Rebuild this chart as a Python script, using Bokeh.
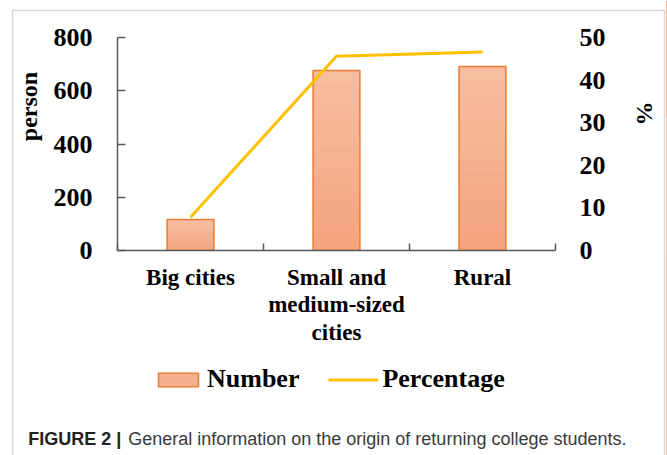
import math
from bokeh.plotting import figure
from bokeh.models import (Range1d, LinearAxis, FixedTicker, Label, Legend,
                          LegendItem, BoxAnnotation, GridBox)
from bokeh.embed import file_html
from bokeh.resources import INLINE

# ---- data ----
categories = ["Big cities", "Small and medium-sized cities", "Rural"]
tick_labels = ["Big cities", "Small and\nmedium-sized\ncities", "Rural"]
number = [116, 676, 691]
percentage = [7.8, 45.6, 46.6]
left_ticks = [0, 200, 400, 600, 800]
right_ticks = [0, 10, 20, 30, 40, 50]

# ---- layout (pixels) ----
W, H = 667, 455
FL, FR, FT, FB = 117, 555, 37, 250
NCAT = len(categories)
YMAX = left_ticks[-1]

xs = [i + 0.5 for i in range(NCAT)]
bounds = list(range(NCAT + 1))

AX = "#595959"
SERIF = "Liberation Serif"
SANS = "Liberation Sans"
BAR_FILL = "#F5B08F"
BAR_LINE = "#ED7D31"
LINE_COL = "#FFC000"
GRAD_BOTTOM = (244, 164, 126)
GRAD_TOP = (246, 190, 162)
NBANDS = 14
BAR_W = 0.32

# ---------- chart figure (transparent, on top) ----------
p = figure(width=W, height=H, output_backend="svg", toolbar_location=None,
           x_range=Range1d(0, NCAT), y_range=Range1d(0, YMAX),
           min_border_left=FL, min_border_right=W - FR,
           min_border_top=FT, min_border_bottom=H - FB,
           x_axis_location=None, y_axis_location=None)
p.frame_align = False
p.xgrid.visible = False
p.ygrid.visible = False
p.outline_line_color = None
p.background_fill_alpha = 0
p.border_fill_alpha = 0
p.extra_y_ranges = {"pct": Range1d(0, right_ticks[-1])}

yax = LinearAxis(ticker=FixedTicker(ticks=left_ticks),
                 axis_line_color=AX, axis_line_width=1.5,
                 major_tick_in=8, major_tick_out=0,
                 major_tick_line_color=AX, major_tick_line_width=1.5,
                 minor_tick_line_color=None,
                 major_label_standoff=25,
                 major_label_text_font=SERIF,
                 major_label_text_font_style="bold",
                 major_label_text_font_size="26px",
                 major_label_text_color="black")
p.add_layout(yax, "left")

xax = LinearAxis(ticker=FixedTicker(ticks=xs, minor_ticks=bounds),
                 major_label_overrides={x: t for x, t in zip(xs, tick_labels)},
                 axis_line_color=AX, axis_line_width=1.5,
                 major_tick_in=0, major_tick_out=0,
                 minor_tick_in=7, minor_tick_out=0,
                 minor_tick_line_color=AX, minor_tick_line_width=1.5,
                 major_label_standoff=14,
                 major_label_text_font=SERIF,
                 major_label_text_font_style="bold",
                 major_label_text_font_size="23px",
                 major_label_text_line_height=1.1,
                 major_label_text_color="black")
p.add_layout(xax, "below")

rax = LinearAxis(y_range_name="pct", ticker=FixedTicker(ticks=right_ticks),
                 axis_line_color=None,
                 major_tick_in=0, major_tick_out=0,
                 major_tick_line_color=None, minor_tick_line_color=None,
                 major_label_standoff=24,
                 major_label_text_font=SERIF,
                 major_label_text_font_style="bold",
                 major_label_text_font_size="26px",
                 major_label_text_color="black")
p.add_layout(rax, "right")

# bars: vertical gradient built from bands of each bar's own height
for k in range(NBANDS):
    t = (k + 0.5) / NBANDS
    col = "#%02x%02x%02x" % tuple(round(b + (a - b) * t) for a, b in zip(GRAD_TOP, GRAD_BOTTOM))
    p.vbar(x=xs, bottom=[v * k / NBANDS for v in number],
           top=[v * (k + 1) / NBANDS for v in number], width=BAR_W,
           fill_color=col, line_color=col, line_width=0.8)
p.vbar(x=xs, top=number, bottom=0, width=BAR_W,
       fill_color=None, line_color=BAR_LINE, line_width=1.5)
p.line(x=xs, y=percentage, y_range_name="pct",
       line_color=LINE_COL, line_width=3)

# ---------- background figure: frame = whole canvas, pixel coordinates ----------
bg = figure(width=W, height=H, output_backend="svg", toolbar_location=None,
            x_range=Range1d(0, W), y_range=Range1d(H, 0), min_border=0,
            x_axis_location=None, y_axis_location=None)
bg.frame_align = False
bg.xgrid.visible = False
bg.ygrid.visible = False
bg.outline_line_color = None
bg.background_fill_color = "white"
bg.border_fill_color = "white"
# a range that sends the legend's proxy marks far outside the canvas
bg.extra_x_ranges = {"off": Range1d(-20, -19)}

leg_bar = bg.vbar(x=xs, top=number, width=BAR_W, x_range_name="off",
                  fill_color=BAR_FILL, line_color=BAR_LINE, line_width=1.5)
leg_line = bg.line(x=xs, y=percentage, x_range_name="off",
                   line_color=LINE_COL, line_width=3)
legend = Legend(items=[LegendItem(label="Number", renderers=[leg_bar]),
                       LegendItem(label="Percentage", renderers=[leg_line])],
                orientation="horizontal", location=(153, 61),
                glyph_width=50, glyph_height=17, label_standoff=4,
                spacing=29, padding=0, margin=0,
                border_line_color=None, background_fill_alpha=0,
                label_text_font=SERIF, label_text_font_style="bold",
                label_text_font_size="26px", label_text_color="black")
bg.add_layout(legend)

bg.add_layout(BoxAnnotation(left=12, right=664, top=10, bottom=480,
                            fill_color=None, fill_alpha=0,
                            line_color="#808080", line_width=1.5))
bg.add_layout(Label(x=28, y=106, text="person", angle=math.pi / 2,
                    text_align="center", text_baseline="middle",
                    text_font=SERIF, text_font_style="bold",
                    text_font_size="24px", text_color="black"))
bg.add_layout(Label(x=643, y=113, text="%", angle=math.pi / 2,
                    text_align="center", text_baseline="middle",
                    text_font=SERIF, text_font_style="bold",
                    text_font_size="24px", text_color="black"))
bg.add_layout(Label(x=27.7, y=438, text="FIGURE 2 |",
                    text_align="left", text_baseline="middle",
                    text_font=SANS, text_font_style="bold",
                    text_font_size="18px", text_color="#222222"))
bg.add_layout(Label(x=127.7, y=438,
                    text="General information on the origin of returning college students.",
                    text_align="left", text_baseline="middle",
                    text_font=SANS, text_font_style="normal",
                    text_font_size="18px", text_color="#3a3a3a"))

root = GridBox(children=[(bg, 0, 0), (p, 0, 0)], width=W, height=H)

open("out.html", "w").write(file_html(root, INLINE))
